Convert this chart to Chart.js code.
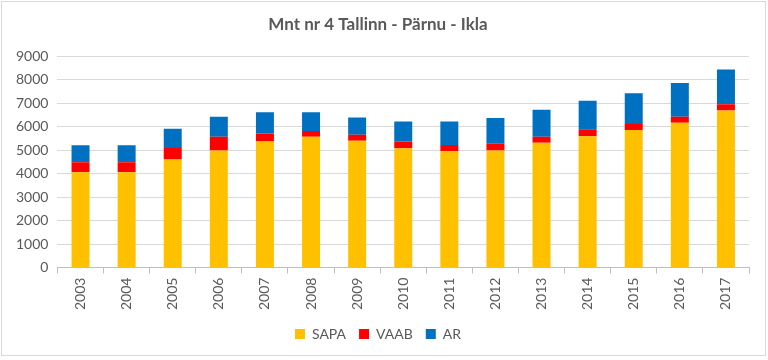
<!DOCTYPE html>
<html>
<head>
<meta charset="utf-8">
<script src="https://cdn.jsdelivr.net/npm/chart.js@4"></script>
<style>
html,body{margin:0;padding:0;background:#fff;}
#wrap{position:absolute;left:1px;top:1px;width:765px;height:355px;border:1px solid #d9d9d9;box-sizing:border-box;}
canvas{display:block;}
</style>
</head>
<body>
<div id="wrap"><canvas id="c"></canvas></div>
<script>
const years = ["2003","2004","2005","2006","2007","2008","2009","2010","2011","2012","2013","2014","2015","2016","2017"];
const sapa = [4060,4060,4600,4990,5370,5570,5400,5080,4960,4990,5320,5600,5860,6170,6690];
const vaab = [430,430,500,580,340,245,255,290,260,290,260,290,260,260,270];
const ar   = [720,720,820,860,910,805,735,860,1010,1090,1150,1220,1310,1440,1480];
const yTicks = [0,1000,2000,3000,4000,5000,6000,7000,8000,9000];

const FONT = "Lato, 'Open Sans', sans-serif";
const GRAY = "#595959";
Chart.defaults.font.family = FONT;
Chart.defaults.color = GRAY;

new Chart(document.getElementById('c'), {
  type: 'bar',
  data: {
    labels: years,
    datasets: [
      {label: 'SAPA', data: sapa, backgroundColor: '#FFC000'},
      {label: 'VAAB', data: vaab, backgroundColor: '#FF0000'},
      {label: 'AR', data: ar, backgroundColor: '#0070C0'}
    ]
  },
  options: {
    responsive: true,
    maintainAspectRatio: false,
    animation: false,
    layout: {padding: {left: 5, right: 16, top: 4, bottom: 4}},
    datasets: {bar: {barPercentage: 0.39, categoryPercentage: 1.0}},
    plugins: {
      title: {display: true, text: 'Mnt nr 4 Tallinn - Pärnu - Ikla', color: GRAY,
        font: {size: 17, weight: 'bold', family: FONT}, padding: {top: 8, bottom: 22}},
      legend: {position: 'bottom', labels: {boxWidth: 10, boxHeight: 10, font: {size: 14}, color: GRAY, padding: 13}},
      tooltip: {enabled: false}
    },
    scales: {
      x: {
        stacked: true,
        grid: {display: true, drawOnChartArea: false, offset: true, tickLength: 6, color: '#bfbfbf'},
        border: {color: '#bfbfbf'},
        ticks: {maxRotation: 90, minRotation: 90, font: {size: 14}, color: GRAY, padding: 4}
      },
      y: {
        stacked: true,
        min: 0, max: 9000,
        afterBuildTicks: (s) => { s.ticks = yTicks.map(v => ({value: v})); },
        grid: {color: '#d9d9d9', drawTicks: false},
        border: {display: false},
        ticks: {font: {size: 14}, color: GRAY, padding: 9, callback: (v) => String(v)}
      }
    }
  }
});
</script>
</body>
</html>
